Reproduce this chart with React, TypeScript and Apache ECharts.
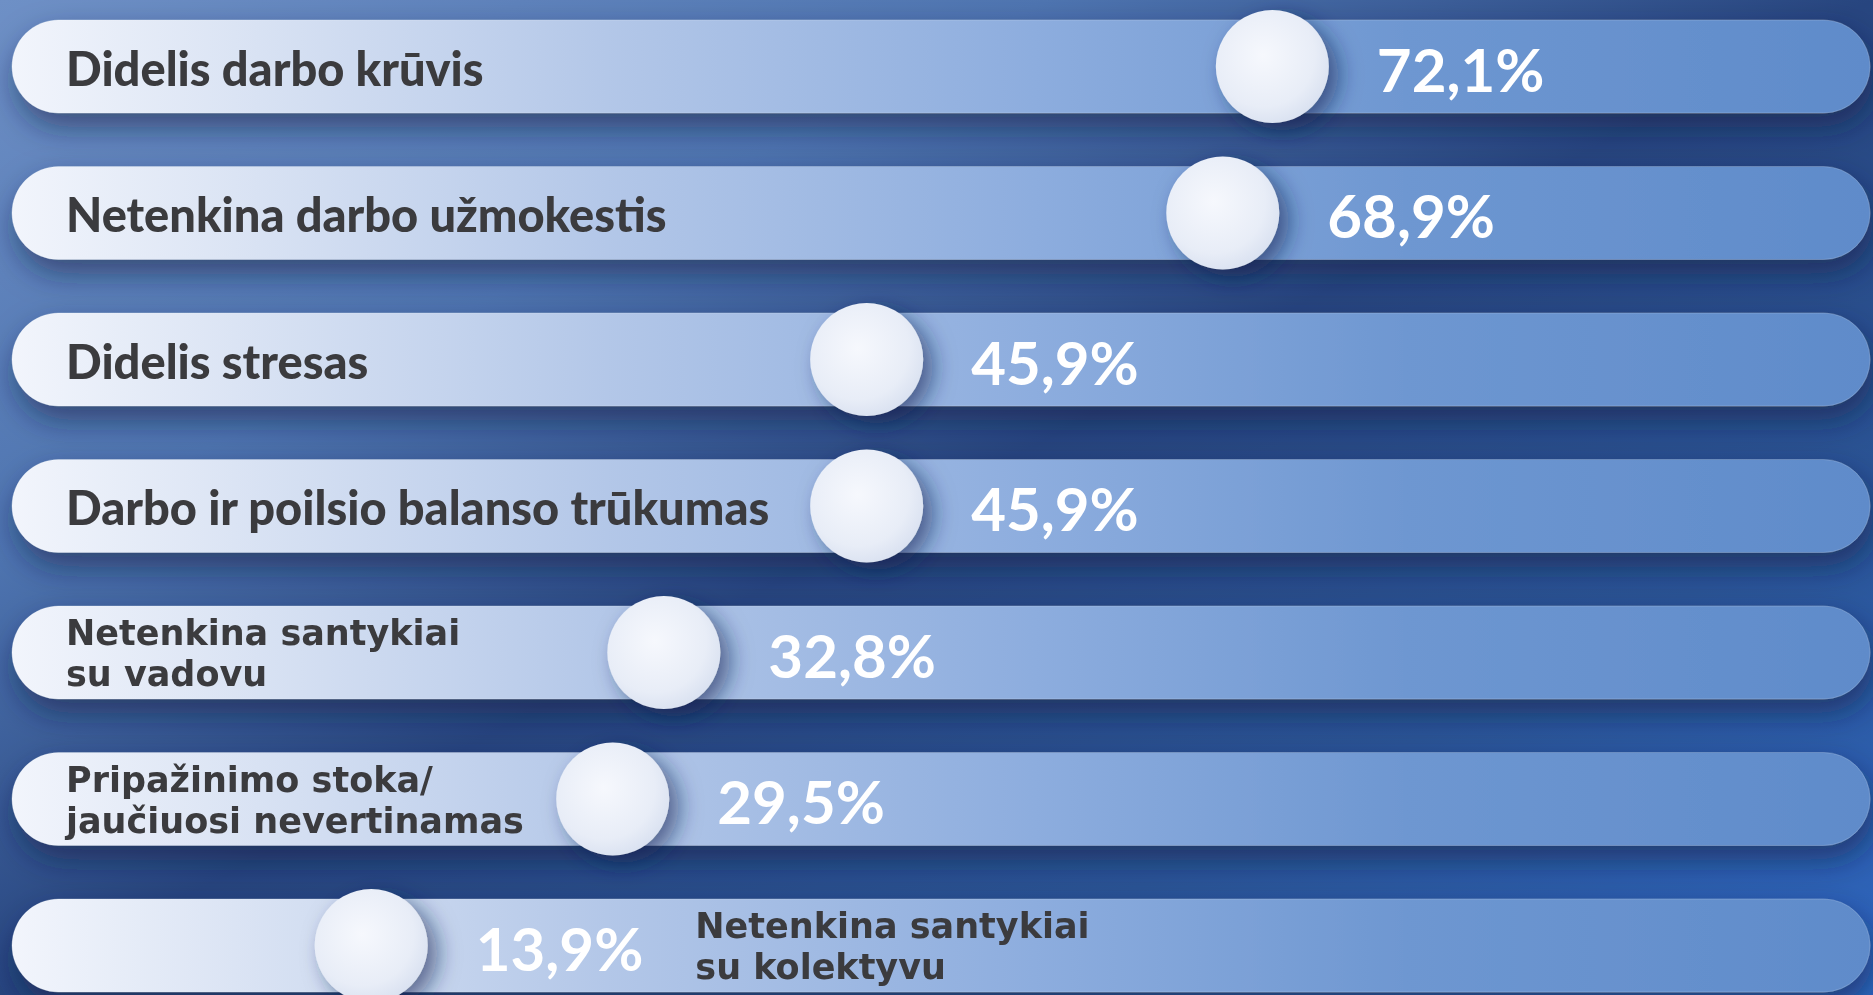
import React, { useEffect, useRef } from "react";
import * as echarts from "echarts";

// ---- data ----
const categories: string[] = [
  "Didelis darbo krūvis",
  "Netenkina darbo užmokestis",
  "Didelis stresas",
  "Darbo ir poilsio balanso trūkumas",
  "Netenkina santykiai\nsu vadovu",
  "Pripažinimo stoka/\njaučiuosi nevertinamas",
  "Netenkina santykiai\nsu kolektyvu",
];
const values: number[] = [72.1, 68.9, 45.9, 45.9, 32.8, 29.5, 13.9];
const axisMin = -9.3;
const axisMax = 110.7;

const fmt = (v: number) => v.toFixed(1).replace(".", ",") + "%";

const FONT1 = "Lato, 'Open Sans', sans-serif";
const FONT2 = "'DejaVu Sans', Lato, sans-serif";
const CAT_SIZE_1 = 47;
const CAT_SIZE_2 = 35;
const VAL_SIZE = 60;

let measureCtx: CanvasRenderingContext2D | null = null;
function measure(text: string, size: number, family: string, weight: string): number {
  if (!measureCtx) measureCtx = document.createElement("canvas").getContext("2d");
  if (!measureCtx) return text.length * size * 0.55;
  measureCtx.font = `${weight} ${size}px ${family}`;
  return Math.max(...text.split("\n").map((t) => measureCtx!.measureText(t).width));
}

export default function App() {
  const ref = useRef<HTMLDivElement>(null);
  useEffect(() => {
    if (!ref.current) return;
    const chart = echarts.init(ref.current, undefined, { renderer: "svg" });
    const W = ref.current.clientWidth;
    const H = ref.current.clientHeight;
    const pitch = 146.5;
    const firstCenter = 66.5;
    const yMin = -firstCenter / pitch;
    const yMax = (H - firstCenter) / pitch;

    const renderItem = (params: any, api: any) => {
      const v = api.value(0);
      const idx = api.value(1);
      const [cx, cy] = api.coord([v, idx]);
      const cs = params.coordSys;
      const trackH = 93;
      const knobR = 56.5;
      const cat = categories[idx];
      const twoLine = cat.indexOf("\n") >= 0;
      const catSize = twoLine ? CAT_SIZE_2 : CAT_SIZE_1;
      const catFont = twoLine ? FONT2 : FONT1;
      const catWeight = twoLine ? "bold" : "900";
      const valText = fmt(v);
      const valX = cx + knobR + 48;
      const valW = measure(valText, VAL_SIZE, FONT1, "bold");
      const catW = measure(cat, catSize, catFont, catWeight);
      let catX = cs.x + 54;
      if (catX + catW > cx - knobR) {
        catX = valX + valW + 52;
      }
      return {
        type: "group",
        children: [
          {
            type: "rect",
            shape: { x: cs.x, y: cy - trackH / 2, width: cs.width, height: trackH, r: trackH / 2 },
            style: {
              fill: {
                type: "linear",
                x: 0, y: 0, x2: 1, y2: 0,
                colorStops: [
                  { offset: 0, color: "#f2f5fc" },
                  { offset: 0.12, color: "#dbe4f4" },
                  { offset: 0.32, color: "#b3c7e8" },
                  { offset: 0.55, color: "#8dadde" },
                  { offset: 0.75, color: "#6e97d1" },
                  { offset: 1, color: "#5f8bca" },
                ],
              },
              stroke: "rgba(255,255,255,0.18)",
              lineWidth: 1,
              shadowBlur: 30,
              shadowOffsetY: 14,
              shadowOffsetX: 4,
              shadowColor: "rgba(12,28,66,0.55)",
            },
          },
          {
            type: "circle",
            shape: { cx, cy, r: knobR },
            style: {
              fill: {
                type: "radial",
                x: 0.42, y: 0.4, r: 0.65,
                colorStops: [
                  { offset: 0, color: "#f6f8fd" },
                  { offset: 0.7, color: "#e8edf7" },
                  { offset: 1, color: "#d8e0f0" },
                ],
              },
              shadowBlur: 22,
              shadowOffsetX: 10,
              shadowOffsetY: 8,
              shadowColor: "rgba(18,38,86,0.6)",
            },
          },
          {
            type: "text",
            style: {
              text: valText,
              x: valX,
              y: cy + 2,
              fill: "#ffffff",
              fontSize: VAL_SIZE,
              fontWeight: "bold",
              fontFamily: FONT1,
              align: "left",
              verticalAlign: "middle",
            },
          },
          {
            type: "text",
            style: {
              text: cat,
              x: catX,
              y: cy + 1,
              fill: "#3b3b3e",
              fontSize: catSize,
              fontWeight: catWeight,
              fontFamily: catFont,
              lineHeight: twoLine ? 41 : 56,
              align: "left",
              verticalAlign: "middle",
            },
          },
        ],
      };
    };

    chart.setOption({
      animation: false,
      graphic: [
        {
          type: "rect",
          z: -10,
          silent: true,
          shape: { x: 0, y: 0, width: W, height: H },
          style: {
            fill: {
              type: "linear",
              x: 0, y: 0, x2: 1, y2: 1,
              colorStops: [
                { offset: 0, color: "#6e90c6" },
                { offset: 0.28, color: "#4e74b0" },
                { offset: 0.5, color: "#27457f" },
                { offset: 0.75, color: "#2a5496" },
                { offset: 1, color: "#2e66c0" },
              ],
            },
          },
        },
      ],
      grid: { left: 12, right: 3, top: 0, bottom: 0 },
      xAxis: { type: "value", min: axisMin, max: axisMax, show: false },
      yAxis: { type: "value", min: yMin, max: yMax, inverse: true, show: false },
      series: [
        {
          type: "custom",
          renderItem,
          clip: false,
          encode: { x: 0, y: 1 },
          data: values.map((v, i) => [v, i]),
        },
      ],
    });
    return () => chart.dispose();
  }, []);
  return <div ref={ref} style={{ position: "fixed", left: 0, top: 0, width: "100vw", height: "100vh" }} />;
}
